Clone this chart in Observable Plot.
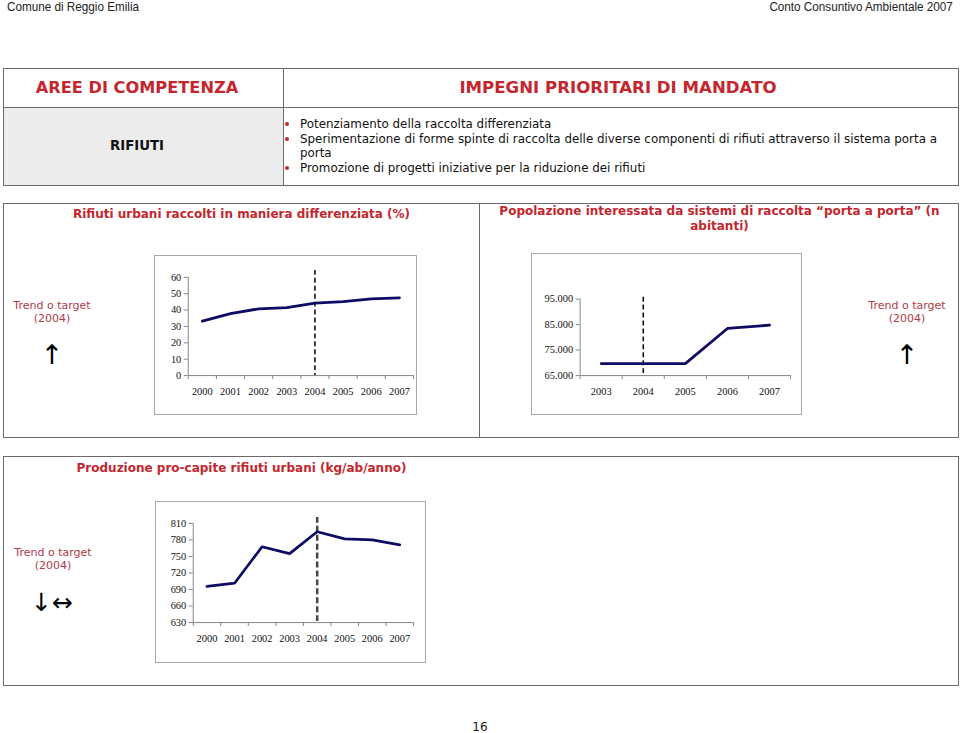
<!DOCTYPE html>
<html><head><meta charset="utf-8">
<script src="https://cdn.jsdelivr.net/npm/d3@7"></script>
<script src="https://cdn.jsdelivr.net/npm/@observablehq/plot@0.6"></script>
<style>
html,body{margin:0;padding:0;background:#fff;}
#page{position:relative;width:960px;height:733px;overflow:hidden;font-family:"DejaVu Sans",Verdana,sans-serif;}
.abs{position:absolute;}
.hdr{font-family:"Liberation Sans",Arial,sans-serif;font-size:13px;color:#222;top:0px;line-height:13px;white-space:nowrap;}
.box{position:absolute;border:1px solid #6a6a6a;box-sizing:border-box;}
.red{color:#c4262e;font-weight:bold;}
.title{font-size:12px;font-weight:bold;color:#c4262e;text-align:center;line-height:15px;}
.trend{font-size:11px;color:#b23a48;text-align:center;line-height:13px;white-space:nowrap;}
.arrow{font-size:27px;color:#000;line-height:27px;text-align:center;white-space:nowrap;}
.frame{position:absolute;border:1px solid #a8a8a8;box-sizing:border-box;background:#fff;}
.frame svg{position:absolute;left:-1px;top:-1px;overflow:visible;}
.bl{font-size:11.9px;color:#111;line-height:14.6px;white-space:nowrap;}
.dot{position:absolute;width:4px;height:4px;border-radius:2px;background:#c4262e;}
</style></head>
<body><div id="page">
<div class="abs hdr" style="left:7px;transform:scaleX(0.9);transform-origin:left top;">Comune di Reggio Emilia</div>
<div class="abs hdr" style="right:7px;transform:scaleX(0.9);transform-origin:right top;">Conto Consuntivo Ambientale 2007</div>

<!-- table -->
<div class="box" style="left:3px;top:68px;width:956px;height:118px;"></div>
<div class="abs" style="left:4px;top:108px;width:279px;height:77px;background:#ececec;"></div>
<div class="abs" style="left:3px;top:107px;width:956px;height:1px;background:#6a6a6a;"></div>
<div class="abs" style="left:283px;top:68px;width:1px;height:118px;background:#6a6a6a;"></div>
<div class="abs red" style="left:3px;width:268px;top:79px;font-size:16.2px;line-height:18px;text-align:center;white-space:nowrap;">AREE DI COMPETENZA</div>
<div class="abs red" style="left:280px;width:676px;top:79px;font-size:16.6px;line-height:18px;text-align:center;white-space:nowrap;">IMPEGNI PRIORITARI DI MANDATO</div>
<div class="abs" style="left:3px;width:268px;top:138px;font-size:13.3px;line-height:16px;font-weight:bold;text-align:center;color:#111;">RIFIUTI</div>
<div class="dot" style="left:285px;top:122px;"></div>
<div class="dot" style="left:285px;top:137px;"></div>
<div class="dot" style="left:285px;top:166px;"></div>
<div class="abs bl" style="left:300px;top:117px;">Potenziamento della raccolta differenziata<br>Sperimentazione di forme spinte di raccolta delle diverse componenti di rifiuti attraverso il sistema porta a<br>porta<br>Promozione di progetti iniziative per la riduzione dei rifiuti</div>

<!-- panels -->
<div class="box" style="left:3px;top:203px;width:477px;height:235px;"></div>
<div class="box" style="left:479px;top:203px;width:480px;height:235px;"></div>
<div class="box" style="left:3px;top:456px;width:956px;height:230px;"></div>

<div class="abs title" style="left:3px;width:477px;top:207px;">Rifiuti urbani raccolti in maniera differenziata (%)</div>
<div class="abs title" style="left:480px;width:479px;top:204px;">Popolazione interessata da sistemi di raccolta “porta a porta” (n<br>abitanti)</div>
<div class="abs title" style="left:3px;width:477px;top:461px;">Produzione pro-capite rifiuti urbani (kg/ab/anno)</div>

<div class="abs trend" style="left:2px;width:100px;top:299px;">Trend o target<br>(2004)</div>
<div class="abs trend" style="left:857px;width:100px;top:299px;">Trend o target<br>(2004)</div>
<div class="abs trend" style="left:3px;width:100px;top:546px;">Trend o target<br>(2004)</div>
<div class="abs arrow" style="left:2px;width:100px;top:341px;">↑</div>
<div class="abs arrow" style="left:857px;width:100px;top:341px;">↑</div>
<div class="abs arrow" style="left:2px;width:100px;top:589px;font-size:25px;">↓↔</div>

<div class="frame" id="c1" style="left:154px;top:255px;width:263px;height:160px;"></div>
<div class="frame" id="c2" style="left:531px;top:253px;width:271px;height:162px;"></div>
<div class="frame" id="c3" style="left:155px;top:501px;width:271px;height:162px;"></div>

<div class="abs" style="left:430px;width:100px;top:722px;font-size:12px;line-height:11px;text-align:center;color:#111;">16</div>
</div>
<script>
const years1 = [2000, 2001, 2002, 2003, 2004, 2005, 2006, 2007];
const raccoltaDifferenziata = [33.2, 37.8, 40.8, 41.5, 44.3, 45.1, 46.9, 47.5];
const yTicks1 = [0, 10, 20, 30, 40, 50, 60];

const years2 = [2003, 2004, 2005, 2006, 2007];
const popolazionePortaAPorta = [69700, 69700, 69700, 83500, 84800];
const yTicks2 = [65000, 75000, 85000, 95000];
const yTickLabels2 = ["65.000", "75.000", "85.000", "95.000"];

const years3 = [2000, 2001, 2002, 2003, 2004, 2005, 2006, 2007];
const proCapite = [695.5, 701.4, 767.5, 755, 794.7, 781.7, 780, 771];
const yTicks3 = [630, 660, 690, 720, 750, 780, 810];

const targetYear = 2004;

function drawChart(cfg) {
  const n = cfg.years.length;
  const rows = cfg.values.map((v, i) => ({i, year: cfg.years[i], v}));
  const axisColor = "#858585";
  const labels = cfg.yLabels;
  const svg = Plot.plot({
    width: cfg.width, height: cfg.height,
    marginLeft: cfg.m[0], marginRight: cfg.m[1], marginTop: cfg.m[2], marginBottom: cfg.m[3],
    style: "font: 10.5px 'Liberation Serif', 'Times New Roman', serif; background: transparent; overflow: visible; color: #111;",
    x: {type: "linear", domain: [-0.5, n - 0.5]},
    y: {domain: cfg.yDomain},
    marks: [
      Plot.ruleX([-0.5], {stroke: axisColor}),
      Plot.ruleY([cfg.yDomain[0]], {stroke: axisColor}),
      Plot.axisY({ticks: cfg.yTicks, tickSize: 4, tickPadding: 3, stroke: axisColor, fill: "#111", label: null,
        tickFormat: labels ? (d => labels[cfg.yTicks.indexOf(d)]) : (d => String(d))}),
      Plot.axisX({ticks: d3.range(n + 1).map(i => i - 0.5), tickSize: 4, stroke: axisColor, tickFormat: () => "", label: null}),
      Plot.axisX({ticks: d3.range(n), tickSize: 0, tickPadding: 12, fill: "#111", label: null,
        tickFormat: d => String(cfg.years[Math.round(d)])}),
      Plot.ruleX([cfg.years.indexOf(targetYear)], {stroke: cfg.dash.color, strokeWidth: cfg.dash.width,
        strokeDasharray: cfg.dash.pattern, insetTop: cfg.dash.over}),
      Plot.line(rows, {x: "i", y: "v", stroke: "#0c0c64", strokeWidth: 2.8, strokeLinejoin: "miter"})
    ]
  });
  document.getElementById(cfg.id).appendChild(svg);
}

drawChart({id: "c1", width: 263, height: 160, m: [34, 2, 22, 39], years: years1, values: raccoltaDifferenziata,
  yDomain: [0, 60], yTicks: yTicks1, dash: {color: "#111", width: 1.6, pattern: "5,3", over: -7}});
drawChart({id: "c2", width: 271, height: 162, m: [49, 10, 46, 39], years: years2, values: popolazionePortaAPorta,
  yDomain: [65000, 95000], yTicks: yTicks2, yLabels: yTickLabels2, dash: {color: "#111", width: 1.6, pattern: "5,3", over: -2}});
drawChart({id: "c3", width: 271, height: 162, m: [38, 11, 22, 40], years: years3, values: proCapite,
  yDomain: [630, 810], yTicks: yTicks3, dash: {color: "#444", width: 2.5, pattern: "6,3", over: -6}});
</script>
</body></html>
